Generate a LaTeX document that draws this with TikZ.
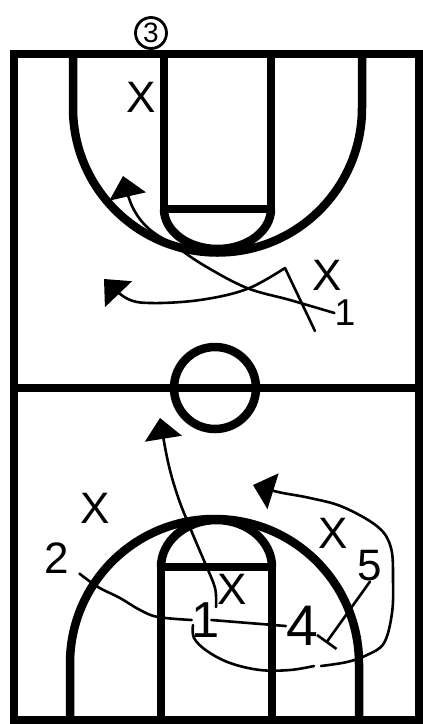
\documentclass[tikz,border=0pt]{standalone}
\usepackage{fontspec}
\setmainfont{Liberation Sans}
\usetikzlibrary{arrows.meta}

\begin{document}
\begin{tikzpicture}[x=1pt, y=-1pt,
    court/.style={line width=8.5pt},
    pen/.style={line width=2.6pt, line cap=round, line join=round},
    tip/.style={-{Triangle[length=21pt, width=37pt]}},
    defender/.style={font=\fontsize{44}{44}\selectfont, inner sep=0pt},
    player/.style={font=\fontsize{44}{44}\selectfont, inner sep=0pt}]
    \useasboundingbox (0,0) rectangle (423,724);

    % court
    \draw[court] (14,54) rectangle (419,720);
    \draw[court] (14,388) -- (419,388);
    \draw[court] (215,388) circle (41);

    \draw[court] (164,54) -- (164,209) -- (271,209) -- (271,54);
    \draw[court] (164,209) arc[start angle=180, end angle=0, x radius=53.5, y radius=40];
    \draw[court] (73,54) -- (73,108) arc[start angle=180, end angle=0, radius=144.5] -- (362,54);

    \draw[court] (161,720) -- (161,567) -- (272,567) -- (272,720);
    \draw[court] (161,567) arc[start angle=180, end angle=360, x radius=55.5, y radius=47];
    \draw[court] (70,720) -- (70,663.5) arc[start angle=180, end angle=360, radius=144.5] -- (359,720);

    % players
    \node[draw, circle, line width=2.8pt, minimum size=31pt, inner sep=0pt,
          font=\fontsize{28}{28}\selectfont] (ball) at (151,33) {3};
    \node[defender] (xa) at (141,97) {X};
    \node[defender] (xb) at (327,275) {X};
    \node[player, scale=0.85] (oa) at (345,313) {1};

    \node[defender] (xc) at (95,508) {X};
    \node[player] (ob) at (57,558) {2};
    \node[player, scale=1.15] (oc) at (206,620) {1};
    \node[defender] (xd) at (232,589) {X};
    \node[player, scale=1.3] (od) at (302,626) {4};
    \node[defender] (xe) at (333,533) {X};
    \node[player] (oe) at (370,566) {5};

    % top end moves
    \coordinate (aEnd) at (123,176);
    \draw[pen, tip] plot[smooth, tension=0.6] coordinates {(oa.west) (290,300) (247,288) (205,266) (175,246) (148,228) (132,206) (aEnd)};

    \coordinate (bStart) at (315,331);
    \coordinate (bTurn) at (285,268);
    \coordinate (bEnd) at (104,279);
    \draw[pen, tip] (bStart) -- plot[smooth, tension=0.6] coordinates {(bTurn) (247,289) (200,300) (150,303) (126,298) (bEnd)};

    % bottom end moves
    \coordinate (cStart) at (216,607);
    \coordinate (cEnd) at (160,418);
    \draw[pen, tip] plot[smooth, tension=0.6] coordinates {(cStart) (215,588) (205,563) (191,530) (178,497) (168,462) (cEnd)};

    \coordinate (dStart) at ([xshift=10pt]ob.south east);
    \draw[pen] plot[smooth, tension=0.6] coordinates {(dStart) (98,587) (120,598) (140,610) (158,617) (oc.west)};
    \draw[pen] ([xshift=-9pt]oc.east) -- (od.west);

    \coordinate (fEnd) at (326,643);
    \draw[pen, -{Bar[width=24pt]}] (oe.south) -- (fEnd);

    \coordinate (gStart) at (193,625);
    \coordinate (gEnd) at (253,485);
    \draw[pen] plot[smooth, tension=0.6] coordinates {(gStart) (194,638) (207,651) (230,663) (260,670) (290,670) (314,666)};
    \draw[pen, tip] plot[smooth, tension=0.6] coordinates {(321,666) (347,662) (367,655) (384,643) (392,613) (393,580) (391,548) (378,527) (343,507) (310,498) (278,492) (gEnd)};
\end{tikzpicture}
\end{document}
